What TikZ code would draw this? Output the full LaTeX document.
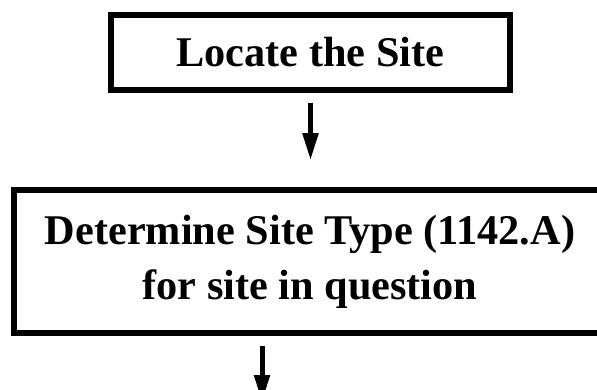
\documentclass[tikz,border=0pt]{standalone}
\usepackage{fontspec}
\setmainfont{Liberation Serif}
\usetikzlibrary{arrows.meta}
\begin{document}
\begin{tikzpicture}[x=1pt,y=1pt,
  boxstyle/.style={draw=black, line width=5.5pt, fill=white, align=center,
    font=\fontsize{42.3}{55}\selectfont\bfseries, inner sep=0pt},
  arrowstyle/.style={line width=5pt, -{Triangle[width=15pt,length=27pt]}}]
\useasboundingbox (0,0) rectangle (597,-390);
\clip (0,0) rectangle (597,-390);
\node[boxstyle, minimum width=399pt, minimum height=75pt] (b1) at (310.5,-52.5) {Locate the Site};
\node[boxstyle, minimum width=592pt, minimum height=143pt] (b2) at (310,-261.5)
  {Determine Site Type (1142.A)\\for site in question};
\coordinate (e2) at (262,-402);
\draw[arrowstyle, shorten <=10pt, shorten >=27pt] (b1.south) -- (b1.south |- b2.north);
\draw[arrowstyle, shorten <=10pt] (b2.south -| e2) -- (e2);
\end{tikzpicture}
\end{document}
